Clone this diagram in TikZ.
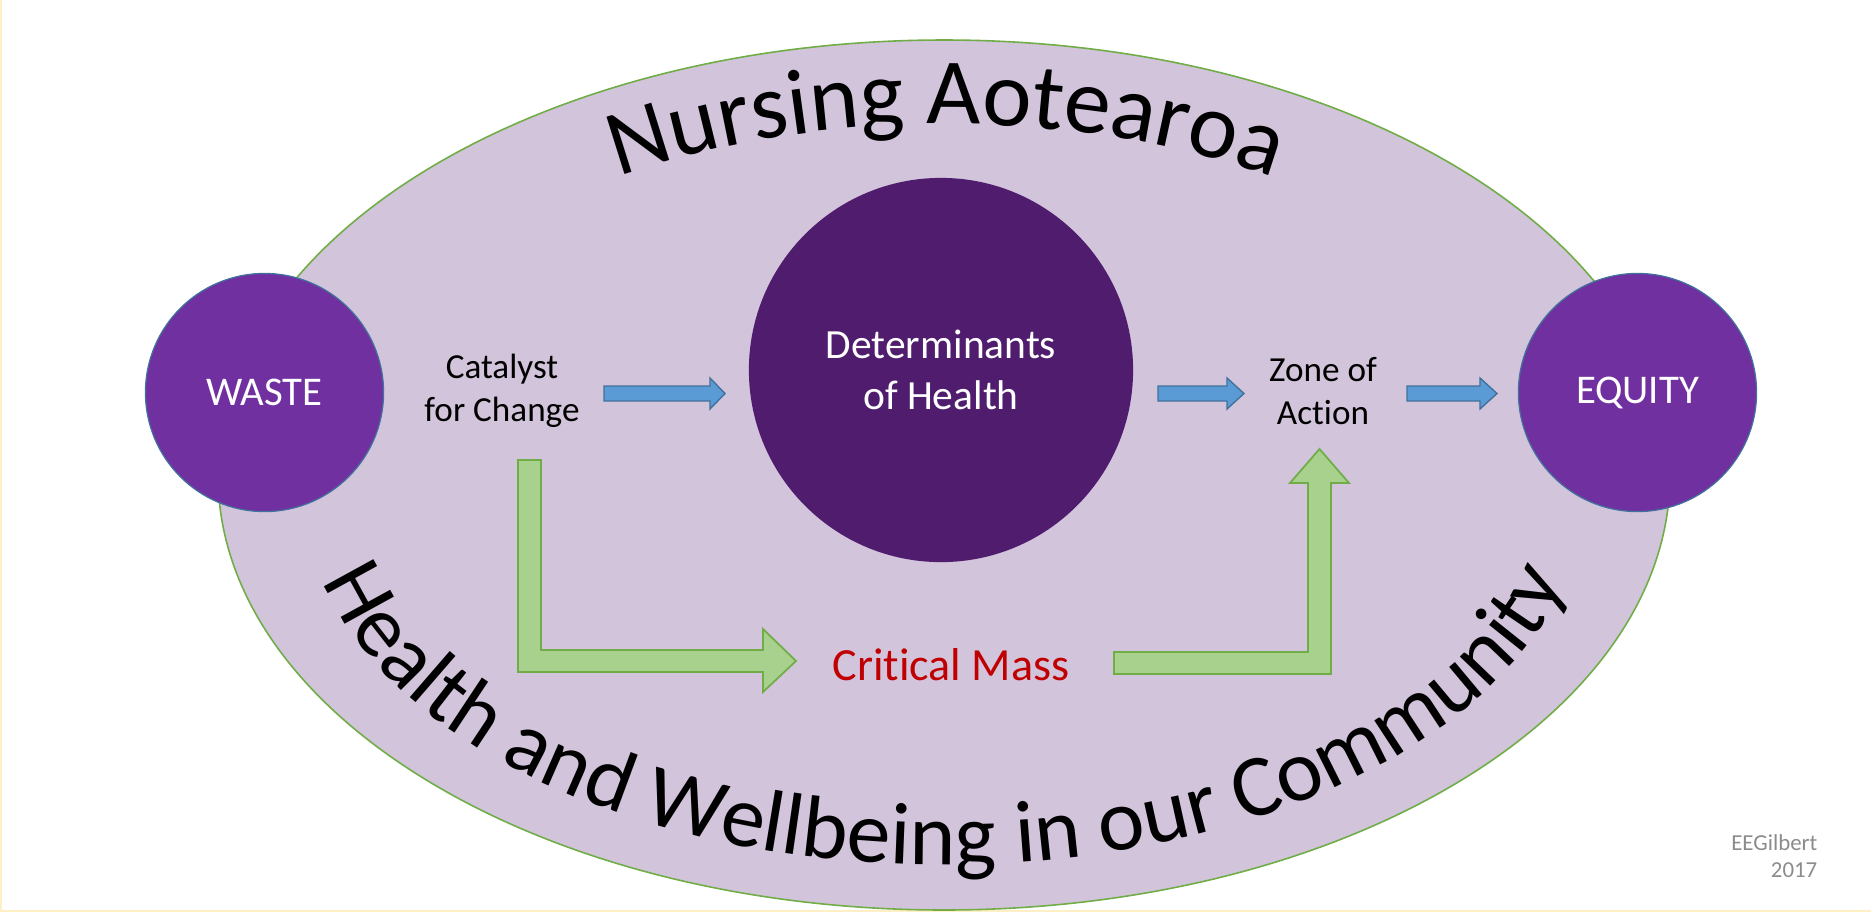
\documentclass[tikz,border=0pt]{standalone}
\usepackage{fontspec}
\setmainfont{Carlito}[Ligatures=NoCommon]
\usetikzlibrary{decorations.text}
\definecolor{ellfill}{HTML}{D2C4DB}
\definecolor{ellline}{HTML}{70AD47}
\definecolor{purp}{HTML}{7030A0}
\definecolor{purpline}{HTML}{41719C}
\definecolor{darkpurp}{HTML}{501C6E}
\definecolor{bluefill}{HTML}{5B9BD5}
\definecolor{blueline}{HTML}{41719C}
\definecolor{greenfill}{HTML}{A9D18E}
\definecolor{greenline}{HTML}{70AD47}
\definecolor{critred}{HTML}{C00000}
\definecolor{signgray}{HTML}{8C8C8C}
\definecolor{edgeyellow}{HTML}{FFEFC4}
\begin{document}
\begin{tikzpicture}[x=0.01cm,y=-0.01cm,
  outercirc/.style={circle,fill=purp,draw=purpline,line width=0.35pt,minimum size=2.38cm,inner sep=0pt,text=white,font=\fontsize{11.6}{14}\selectfont},
  bluearrow/.style={fill=bluefill,draw=blueline,line width=0.4pt},
  greenarrow/.style={fill=greenfill,draw=greenline,line width=0.5pt},
  smalltext/.style={align=center,font=\fontsize{10}{12.2}\selectfont,text=black},
  signtext/.style={text=signgray,font=\fontsize{6.5}{7.7}\selectfont,inner sep=0pt,anchor=base east}]
\useasboundingbox (0,0) rectangle (1871,914);
\fill[white] (0,0) rectangle (1871,914);
\draw[edgeyellow,line width=0.6pt] (0.8,0) -- (0.8,911) -- (1871,911);
% big ellipse
\draw[fill=ellfill,draw=ellline,line width=0.45pt] (944,475) ellipse[x radius=726,y radius=435];
% circles
\node[outercirc] (waste) at (264.5,392.5) {WASTE};
\node[outercirc] (equity) at (1637.5,392.5) {EQUITY};
\node[circle,fill=darkpurp,minimum size=3.84cm,inner sep=0pt,text=white,align=center,font=\fontsize{11.8}{14.7}\selectfont] (det) at (941,370) {Determinants\\of Health};
% texts
\node[smalltext] (cat) at (502,391) {Catalyst\\for Change};
\node[smalltext] (zone) at (1323,391) {Zone of\\Action};
\node[text=critred,font=\fontsize{13.1}{15}\selectfont] (crit) at (951,665) {Critical Mass};
% blue arrows
\draw[bluearrow] (604,386) -- (710,386) -- (710,378) -- (725,393.5) -- (710,409) -- (710,401) -- (604,401) -- cycle;
\draw[bluearrow] (1158,386) -- (1227,386) -- (1227,378) -- (1244,393.5) -- (1227,409) -- (1227,401) -- (1158,401) -- cycle;
\draw[bluearrow] (1407,386) -- (1480,386) -- (1480,378) -- (1497,393.5) -- (1480,409) -- (1480,401) -- (1407,401) -- cycle;
% green bent arrows
\draw[greenarrow] (518,460) -- (541,460) -- (541,650) -- (763,650) -- (763,629) -- (796,661) -- (763,692) -- (763,672) -- (518,672) -- cycle;
\draw[greenarrow] (1114,652) -- (1308,652) -- (1308,483) -- (1290,483) -- (1319.5,449) -- (1349,483) -- (1331,483) -- (1331,674) -- (1114,674) -- cycle;
% curved titles
\path[decorate,decoration={text along path,text align=center,
  text={|\fontsize{26.6}{30}\selectfont|Nursing Aotearoa}}]
  (946,477) ++(198:620 and 353) arc[start angle=198,end angle=342,x radius=620,y radius=353];
\path[decorate,decoration={text along path,text align=center,
  text={|\fontsize{25}{28}\selectfont|Health and Wellbeing in our Community}}]
  (944,492) ++(165:640 and 373) arc[start angle=165,end angle=15,x radius=640,y radius=373];
% signature
\node[signtext] (sig1) at (1818,850) {EEGilbert};
\node[signtext] (sig2) at (1818,877) {2017};
\end{tikzpicture}
\end{document}
